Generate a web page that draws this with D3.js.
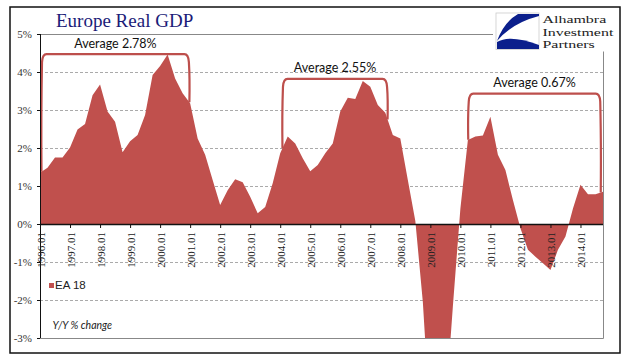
<!DOCTYPE html>
<html>
<head>
<meta charset="utf-8">
<script src="https://cdn.jsdelivr.net/npm/d3@7"></script>
<style>
  html, body { margin: 0; padding: 0; background: #fff; }
  svg { display: block; }
</style>
</head>
<body>
<svg id="chart"></svg>
<script>
const width = 641;
const height = 361;

// quarterly y/y change, 1996 Q1 .. 2014 Q4
const years = d3.range(1996, 2015);
const quarters = years.flatMap(y => ["01", "02", "03", "04"].map(q => `${y}.${q}`));
const values = [
    1.35, 1.48, 1.75, 1.75, 2.01, 2.49, 2.63, 3.39,
    3.67, 2.96, 2.69, 1.89, 2.18, 2.34, 2.87, 3.92,
    4.16, 4.46, 3.83, 3.44, 3.18, 2.25, 1.82, 1.16,
    0.50, 0.89, 1.18, 1.10, 0.72, 0.28, 0.45, 1.07,
    1.86, 2.30, 2.12, 1.73, 1.39, 1.55, 1.86, 2.12,
    2.96, 3.32, 3.29, 3.76, 3.61, 3.13, 2.93, 2.34,
    2.25, 1.16, 0.08, -2.05, -5.3, -5.4, -4.9, -2.17,
    0.40, 2.21, 2.30, 2.33, 2.82, 1.82, 1.42, 0.63,
    -0.11, -0.68, -0.86, -1.03, -1.21, -0.68, -0.33, 0.41,
    1.03, 0.78, 0.78, 0.85
];
const yTicks = [5, 4, 3, 2, 1, 0, -1, -2, -3];
const tickLabels = years.map(y => `${y}.01`);

// average brackets (positions are quarter indexes)
const avgLabels = ["Average 2.78%", "Average 2.55%", "Average 0.67%"];
const avgStart = [0.2, 32.3, 57.05];
const avgEnd = [19.9, 46.3, 74.7];
const avgTop = [4.47, 3.82, 3.43];

const seriesName = "EA 18";
const red = "#c0504d";

const margin = ({top: 34, right: 38, bottom: 23, left: 40});

const svg = d3.select("#chart")
    .attr("width", width)
    .attr("height", height);

const x = d3.scaleLinear()
    .domain([0, values.length - 1])
    .range([margin.left, width - margin.right]);

const y = d3.scaleLinear()
    .domain([-3, 5])
    .range([height - margin.bottom, margin.top]);

// outer frame
svg.append("rect")
    .attr("x", 10).attr("y", 7)
    .attr("width", 610).attr("height", 346)
    .attr("fill", "#fff")
    .attr("stroke", "#111")
    .attr("stroke-width", 1.5);

// gridlines
svg.append("g")
    .selectAll("line")
    .data(yTicks.filter(d => d !== 0 && d !== 5 && d !== -3))
    .join("line")
    .attr("x1", x(0)).attr("x2", x.range()[1])
    .attr("y1", d => y(d) + 0.5).attr("y2", d => y(d) + 0.5)
    .attr("stroke", "#aaa")
    .attr("stroke-dasharray", "3,2");

// plot area border
svg.append("path")
    .attr("d", `M${x(0)},${y(5) + 0.5}H${x.range()[1] + 0.5}V${y(-3) + 0.5}H${x(0)}`)
    .attr("fill", "none")
    .attr("stroke", "#888");

svg.append("clipPath")
    .attr("id", "plot-clip")
    .append("rect")
    .attr("x", x(0)).attr("y", y(5))
    .attr("width", x.range()[1] - x(0)).attr("height", y(-3) - y(5));

const area = d3.area()
    .x((d, i) => x(i))
    .y0(y(0))
    .y1(d => y(d));

svg.append("path")
    .datum(values)
    .attr("clip-path", "url(#plot-clip)")
    .attr("fill", red)
    .attr("d", area);

// value at a fractional quarter index
function valueAt(t) {
    const i = Math.min(Math.floor(t), values.length - 2);
    const f = t - i;
    return values[i] * (1 - f) + values[i + 1] * f;
}

// brackets
const gAvg = svg.append("g");
avgLabels.forEach((label, k) => {
    const x0 = x(avgStart[k]);
    const x1 = x(avgEnd[k]);
    const yt = y(avgTop[k]);
    const yb0 = y(valueAt(avgStart[k]));
    const yb1 = y(valueAt(avgEnd[k]));
    const r = 5;
    const p = d3.path();
    p.moveTo(x0, yb0);
    p.quadraticCurveTo(x0 - 0.5, (yb0 + yt) / 2, x0 + 0.5, yt + r * 1.6);
    p.quadraticCurveTo(x0 + 1, yt, x0 + r, yt);
    p.lineTo(x1 - r, yt);
    p.quadraticCurveTo(x1 - 1, yt, x1 - 0.5, yt + r * 1.6);
    p.quadraticCurveTo(x1 + 0.5, (yb1 + yt) / 2, x1, yb1);
    gAvg.append("path")
        .attr("d", p.toString())
        .attr("fill", "none")
        .attr("stroke", "#bd4f4c")
        .attr("stroke-width", 2.2)
        .attr("stroke-linejoin", "round");
    gAvg.append("text")
        .attr("x", (x0 + x1) / 2)
        .attr("y", yt - 6.5)
        .attr("text-anchor", "middle")
        .style("font", "12.5px Lato, 'Open Sans', sans-serif")
        .attr("fill", "#111")
        .text(label);
});

// y axis
const yAxis = svg.append("g");
yAxis.append("line")
    .attr("x1", x(0) + 0.5).attr("x2", x(0) + 0.5)
    .attr("y1", y(5)).attr("y2", y(-3))
    .attr("stroke", "#111");
yAxis.selectAll("line.tick")
    .data(yTicks)
    .join("line")
    .attr("class", "tick")
    .attr("x1", x(0) - 3).attr("x2", x(0))
    .attr("y1", d => y(d) + 0.5).attr("y2", d => y(d) + 0.5)
    .attr("stroke", "#111");
yAxis.selectAll("text")
    .data(yTicks)
    .join("text")
    .attr("x", 32)
    .attr("y", d => y(d))
    .attr("dy", "0.35em")
    .attr("text-anchor", "end")
    .style("font", "11px 'Liberation Serif', serif")
    .attr("fill", "#333")
    .text(d => `${d}%`);

// x axis on the zero line
const xAxis = svg.append("g");
xAxis.append("line")
    .attr("x1", x(0)).attr("x2", x.range()[1])
    .attr("y1", y(0) + 0.5).attr("y2", y(0) + 0.5)
    .attr("stroke", "#111")
    .attr("stroke-width", 1.3);
xAxis.selectAll("line.tick")
    .data(tickLabels)
    .join("line")
    .attr("class", "tick")
    .attr("x1", (d, i) => x(i * 4) + 0.5).attr("x2", (d, i) => x(i * 4) + 0.5)
    .attr("y1", y(0)).attr("y2", y(0) + 4)
    .attr("stroke", "#111");
xAxis.selectAll("text")
    .data(tickLabels)
    .join("text")
    .attr("transform", (d, i) => `translate(${x(i * 4) + 1},${y(0) + 8}) rotate(-90)`)
    .attr("dy", "0.35em")
    .attr("text-anchor", "end")
    .style("font", "11px 'Liberation Sans Narrow', 'Liberation Serif', serif")
    .attr("fill", "#222")
    .text(d => d);

// legend
svg.append("rect")
    .attr("x", 49).attr("y", 283)
    .attr("width", 5).attr("height", 5)
    .attr("fill", red);
svg.append("text")
    .attr("x", 55).attr("y", 288.5)
    .style("font", "11.5px 'Liberation Sans', Arial, sans-serif")
    .attr("fill", "#222")
    .text(seriesName);

svg.append("text")
    .attr("x", 52.5).attr("y", 329)
    .style("font", "italic 10.5px Lato, 'Open Sans', sans-serif")
    .attr("fill", "#222")
    .text("Y/Y % change");

// title
svg.append("text")
    .attr("x", 56).attr("y", 27)
    .style("font", "19px 'Liberation Serif', serif")
    .attr("fill", "#1b1b78")
    .text("Europe Real GDP");

// logo
const logo = svg.append("g");
logo.append("rect")
    .attr("x", 493).attr("y", 8.5)
    .attr("width", 125).attr("height", 43)
    .attr("fill", "#fff");
const lg = logo.append("g").attr("transform", "translate(496,13)");
lg.append("rect")
    .attr("width", 43).attr("height", 36.5)
    .attr("fill", "#fff")
    .attr("stroke", "#ccc")
    .attr("stroke-width", 0.8);
lg.append("path")
    .attr("d", "M22,1 L43,1 L43,3 Q16,10 1,28 Q8,9 22,1 Z")
    .attr("fill", "#0b1f8c");
lg.append("path")
    .attr("d", "M1,36 L1,29 Q14,21 43,32 L43,36 Z")
    .attr("fill", "#0b1f8c");
logo.append("g")
    .attr("transform", "translate(542.5,0) scale(1.45,1)")
    .selectAll("text")
    .data(["Alhambra", "Investment", "Partners"])
    .join("text")
    .attr("x", 0)
    .attr("y", (d, i) => 23.5 + i * 12.3)
    .style("font", "11px 'Liberation Serif', serif")
    .attr("fill", "#222")
    .text(d => d);
</script>
</body>
</html>
